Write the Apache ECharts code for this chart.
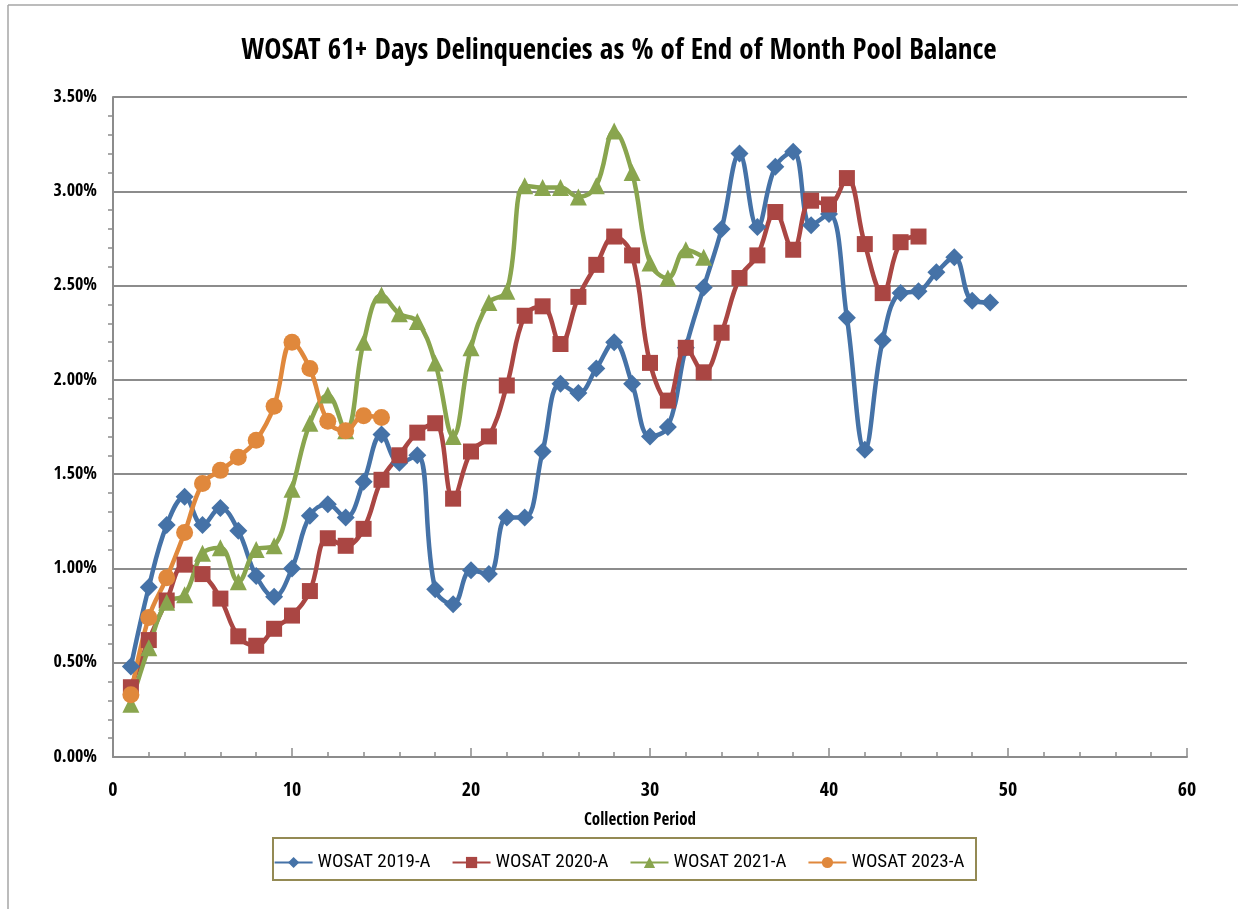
<!DOCTYPE html>
<html>
<head>
<meta charset="utf-8">
<script src="https://cdn.jsdelivr.net/npm/echarts@6/dist/echarts.min.js"></script>
<style>
  html, body { margin: 0; padding: 0; background: #fff; }
  #chart-container { width: 1238px; height: 909px; }
</style>
</head>
<body>
<div id="chart-container"></div>
<script>
// collection periods
var periods = [];
for (var p = 1; p <= 49; p++) periods.push(p);

// 61+ days delinquencies, % of pool balance
var wosat2019 = [0.48, 0.90, 1.23, 1.38, 1.23, 1.32, 1.20, 0.96, 0.85, 1.00,
                 1.28, 1.34, 1.27, 1.46, 1.71, 1.56, 1.60, 0.89, 0.81, 0.99,
                 0.97, 1.27, 1.27, 1.62, 1.98, 1.93, 2.06, 2.20, 1.98, 1.70,
                 1.75, 2.17, 2.49, 2.80, 3.20, 2.81, 3.13, 3.21, 2.82, 2.88,
                 2.33, 1.63, 2.21, 2.46, 2.47, 2.57, 2.65, 2.42, 2.41];
var wosat2020 = [0.37, 0.62, 0.83, 1.02, 0.97, 0.84, 0.64, 0.59, 0.68, 0.75,
                 0.88, 1.16, 1.12, 1.21, 1.47, 1.60, 1.72, 1.77, 1.37, 1.62,
                 1.70, 1.97, 2.34, 2.39, 2.19, 2.44, 2.61, 2.76, 2.66, 2.09,
                 1.89, 2.17, 2.04, 2.25, 2.54, 2.66, 2.89, 2.69, 2.95, 2.93,
                 3.07, 2.72, 2.46, 2.73, 2.76];
var wosat2021 = [0.28, 0.58, 0.82, 0.86, 1.08, 1.11, 0.93, 1.10, 1.12, 1.42,
                 1.77, 1.92, 1.73, 2.20, 2.45, 2.35, 2.31, 2.09, 1.70, 2.17,
                 2.41, 2.47, 3.03, 3.02, 3.02, 2.97, 3.03, 3.32, 3.10, 2.62,
                 2.54, 2.69, 2.65];
var wosat2023 = [0.33, 0.74, 0.95, 1.19, 1.45, 1.52, 1.59, 1.68, 1.86, 2.20,
                 2.06, 1.78, 1.73, 1.81, 1.80];

var xTicks = [0, 10, 20, 30, 40, 50, 60];

function pairs(vals) {
    return vals.map(function (v, i) { return [periods[i], v]; });
}

var dom = document.getElementById('chart-container');
var myChart = echarts.init(dom, null, { renderer: 'canvas' });

var font = '"Open Sans Condensed", "Open Sans", sans-serif';
var legendFont = '"Roboto Condensed", "Open Sans", sans-serif';

function lineSeries(name, vals, color, symbol, size) {
    return {
        name: name,
        type: 'line',
        smooth: 0.4,
        data: pairs(vals),
        symbol: symbol,
        symbolSize: size,
        lineStyle: { color: color, width: 4.5 },
        itemStyle: { color: color },
        z: 3
    };
}

var option = {
    backgroundColor: '#fff',
    animation: false,
    textStyle: { fontFamily: font },
    title: {
        text: 'WOSAT 61+ Days Delinquencies as % of End of Month Pool Balance',
        left: 'center',
        top: 32,
        textStyle: { fontFamily: font, fontSize: 29, fontWeight: 'bold', color: '#000' }
    },
    graphic: [
        { type: 'line', shape: { x1: 8, y1: 5, x2: 8, y2: 909 }, style: { stroke: '#a6a6a6', lineWidth: 1.5 } },
        { type: 'line', shape: { x1: 8, y1: 5, x2: 1238, y2: 5 }, style: { stroke: '#a6a6a6', lineWidth: 1.5 } },
        { type: 'rect', shape: { x: 273, y: 838, width: 703, height: 42 },
          style: { fill: 'none', stroke: '#948a54', lineWidth: 2 } }
    ],
    legend: {
        top: 848,
        left: 'center',
        itemWidth: 38,
        itemHeight: 14,
        itemGap: 21,
        textStyle: { fontFamily: legendFont, fontSize: 19, color: '#000' },
        data: ['WOSAT 2019-A', 'WOSAT 2020-A', 'WOSAT 2021-A', 'WOSAT 2023-A']
    },
    grid: { left: 113, right: 51, top: 97, bottom: 152 },
    xAxis: {
        type: 'value',
        min: xTicks[0],
        max: xTicks[xTicks.length - 1],
        interval: 10,
        name: 'Collection Period',
        nameLocation: 'middle',
        nameGap: 55,
        nameTextStyle: { fontFamily: font, fontSize: 17, fontWeight: 'bold', color: '#000', padding: [0, 20, 0, 0] },
        axisLine: { lineStyle: { color: '#8c8c8c', width: 2 } },
        axisTick: { inside: true, length: 9, lineStyle: { color: '#8c8c8c', width: 1.5 } },
        minorTick: { show: true, splitNumber: 5, length: 5, lineStyle: { color: '#8c8c8c', width: 1.5 } },
        axisLabel: { fontFamily: font, fontSize: 20, fontWeight: 'bold', color: '#000', margin: 24 },
        splitLine: { show: false }
    },
    yAxis: {
        type: 'value',
        min: 0,
        max: 3.5,
        interval: 0.5,
        axisLine: { show: true, lineStyle: { color: '#8c8c8c', width: 2 } },
        axisTick: { show: false },
        minorTick: { show: true, splitNumber: 5, length: 5, lineStyle: { color: '#8c8c8c', width: 1.5 } },
        axisLabel: {
            fontFamily: font, fontSize: 18, fontWeight: 'bold', color: '#000', margin: 16,
            formatter: function (v) { return v.toFixed(2) + '%'; }
        },
        splitLine: { lineStyle: { color: '#8c8c8c', width: 2 } }
    },
    series: [
        lineSeries('WOSAT 2019-A', wosat2019, '#4572a7', 'diamond', 18),
        lineSeries('WOSAT 2020-A', wosat2020, '#aa4643', 'rect', 16),
        lineSeries('WOSAT 2021-A', wosat2021, '#89a54e', 'triangle', 17),
        lineSeries('WOSAT 2023-A', wosat2023, '#e0883c', 'circle', 17)
    ]
};

myChart.setOption(option);
window.addEventListener('resize', myChart.resize);
</script>
</body>
</html>
